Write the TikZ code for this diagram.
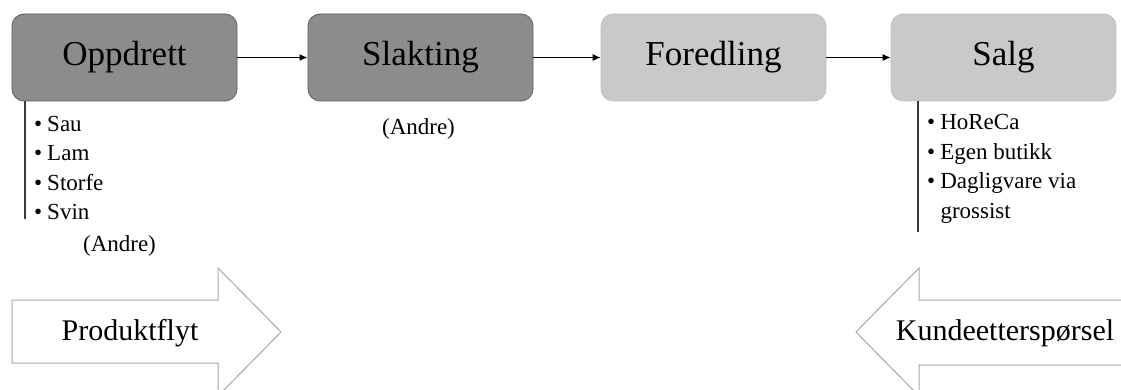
\documentclass[tikz,border=0pt]{standalone}
\usepackage{fontspec}
\setmainfont{Liberation Serif}
\usetikzlibrary{arrows.meta}
\definecolor{darkfill}{HTML}{8C8C8C}
\definecolor{darkline}{HTML}{5E5E5E}
\definecolor{lightfill}{HTML}{C9C9C9}
\definecolor{lightline}{HTML}{BEBEBE}
\definecolor{arrowline}{HTML}{A8A8A8}
\definecolor{listline}{HTML}{3A3A3A}
\tikzset{
  stagebox/.style={rectangle, rounded corners=12pt, minimum width=225pt, minimum height=87pt, inner sep=0pt,
    font=\fontsize{35}{40}\selectfont},
  darkstage/.style={stagebox, fill=darkfill, draw=darkline, line width=0.8pt},
  lightstage/.style={stagebox, fill=lightfill, draw=lightline, line width=0.6pt},
  flow/.style={line width=1.4pt, -{Latex[length=8pt,width=7pt]}},
  listtext/.style={anchor=north west, inner sep=0pt, align=left, font=\fontsize{23}{29.5}\selectfont},
  smalltext/.style={inner sep=0pt, font=\fontsize{23}{29}\selectfont},
  bigarrow/.style={draw=arrowline, fill=white, line width=1pt},
  arrowtext/.style={inner sep=0pt, font=\fontsize{30}{36}\selectfont},
  bracketline/.style={draw=listline, line width=1.6pt}
}
\begin{document}
\begin{tikzpicture}[x=1pt,y=-1pt]
\useasboundingbox (0,0) rectangle (1121,390);
% stages
\node[darkstage]  (opp)  at (124.5,57.5) {Oppdrett};
\node[darkstage]  (slak) at (420.5,57.5) {Slakting};
\node[lightstage] (fore) at (713.5,57.5) {Foredling};
\node[lightstage] (salg) at (1003.5,57.5) {Salg};
\draw[flow] (opp) -- (slak);
\draw[flow] (slak) -- (fore);
\draw[flow] (fore) -- (salg);
% Oppdrett list
\coordinate (l1top) at (25,101);
\coordinate (l1bot) at (25,219);
\draw[bracketline] (l1top) -- (l1bot);
\node[listtext] (list1) at (34,116) {•\hspace{5pt}Sau\\•\hspace{5pt}Lam\\•\hspace{5pt}Storfe\\•\hspace{5pt}Svin};
\node[smalltext] (andre1) at (119.5,246) {(Andre)};
% Slakting note
\node[smalltext] (andre2) at (418.5,129) {(Andre)};
% Salg list
\coordinate (l2top) at (918,101);
\coordinate (l2bot) at (918,232);
\draw[bracketline] (l2top) -- (l2bot);
\node[listtext] (list2) at (927,114.5) {•\hspace{5pt}HoReCa\\•\hspace{5pt}Egen butikk\\•\hspace{5pt}Dagligvare via\\\hspace{13.3pt}grossist};
% big arrows
\draw[bigarrow] (12,300) -- (218,300) -- (218,268) -- (281,332) -- (218,396) -- (218,363) -- (12,363) -- cycle;
\node[arrowtext] (prod) at (130,333) {Produktflyt};
\draw[bigarrow] (1130,300) -- (919,300) -- (919,268) -- (856,332) -- (919,396) -- (919,365) -- (1130,365);
\node[arrowtext] (kunde) at (1005,333) {Kundeetterspørsel};
\end{tikzpicture}
\end{document}
